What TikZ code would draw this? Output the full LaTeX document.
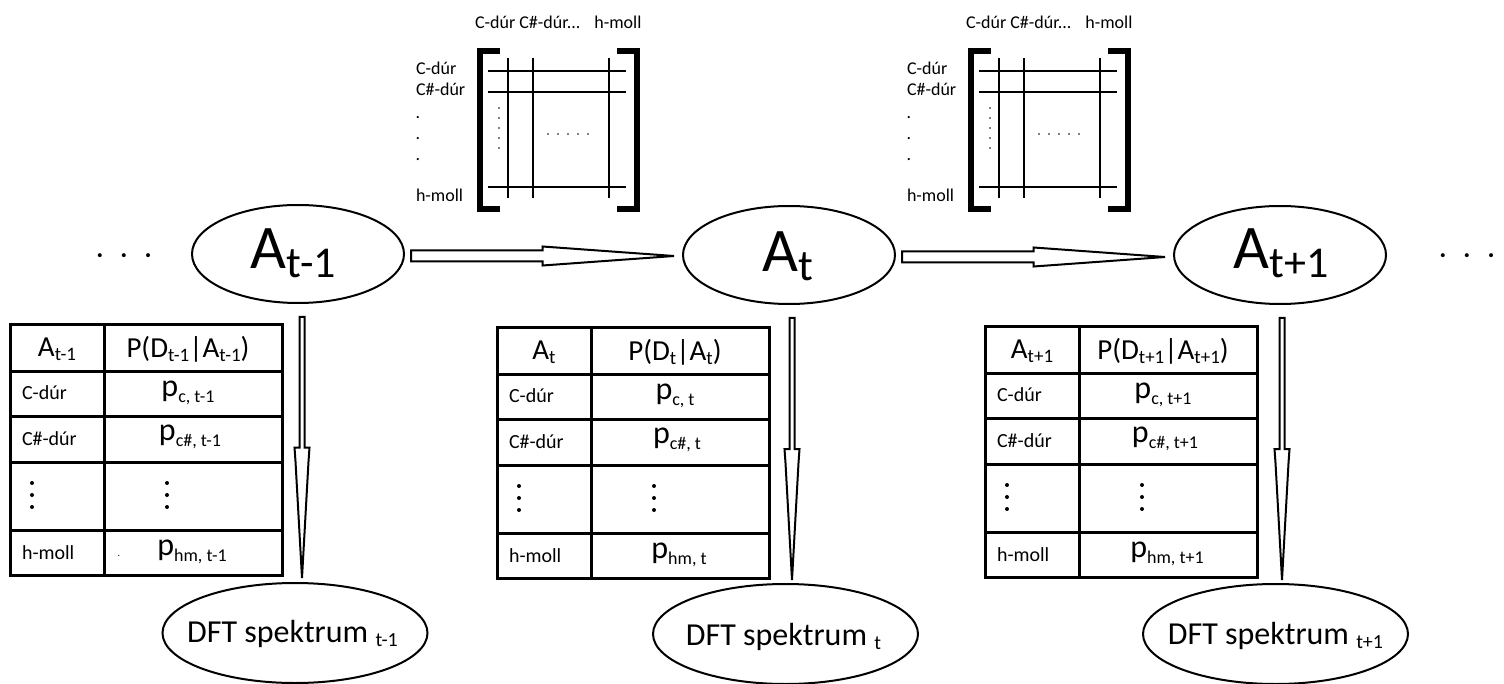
\documentclass[tikz,border=0pt]{standalone}
\usepackage{fontspec}
\setmainfont{Carlito}
\usetikzlibrary{shapes.geometric,calc}
\newcommand\fs[1]{\fontsize{#1}{#1}\selectfont}
\newcommand\lsub[3]{\raisebox{-#3pt}{\fs{#2}#1}}
\tikzset{
  every node/.style={inner sep=0pt, outer sep=0pt},
  ell/.style={draw, ellipse, line width=2pt, minimum width=212pt, minimum height=98pt},
  dftell/.style={draw, ellipse, line width=2pt, minimum width=265pt, minimum height=100pt},
  hol/.style={draw, line width=2pt, line join=miter, fill=white},
  gridline/.style={line width=1.3pt},
  brk/.style={line width=6pt, line join=miter},
  tab/.style={line width=3pt},
  dotrow/.style={line width=1.8pt, line cap=round, dash pattern=on 0pt off 10pt},
  bigdots/.style={line width=4pt, line cap=round, dash pattern=on 0pt off 12pt},
}
% horizontal hollow arrow, tip at x of #2, y of #1
\newcommand\harrow[2]{%
  \path[hol] let \p1=(#1), \p2=(#2), \n1={(\x2-\x1)/2} in
  (\x1,{\y1+5.5pt}) -- ({\x1+\n1},{\y1+5.5pt}) -- ({\x1+\n1},{\y1+9.5pt})
  -- ({\x1+\n1+14pt},{\y1+8.5pt}) -- (\x2,\y1) -- ({\x1+\n1+14pt},{\y1-8.5pt})
  -- ({\x1+\n1},{\y1-9.5pt}) -- ({\x1+\n1},{\y1-5.5pt}) -- (\x1,{\y1-5.5pt}) -- cycle;}
% vertical hollow arrow, x of #1, tip at y of #2
\newcommand\varrow[2]{%
  \path[hol] let \p1=(#1), \p2=(#2), \n1={(\y1-\y2)/2} in
  ({\x1-2.5pt},\y1) -- ({\x1-2.5pt},{\y1-\n1}) -- ({\x1-7.5pt},{\y1-\n1})
  -- ({\x1-6.5pt},{\y1-\n1-14pt}) -- (\x1,\y2) -- ({\x1+6.5pt},{\y1-\n1-14pt})
  -- ({\x1+7.5pt},{\y1-\n1}) -- ({\x1+2.5pt},{\y1-\n1}) -- ({\x1+2.5pt},\y1) -- cycle;}
% transition matrix
\newcommand\transmat[2]{%
  \begin{scope}[shift={(#2,0)}]
    \node[anchor=base west] (#1cols) at (475,29) {\fs{18}C-dúr C\#-dúr...\hspace{14pt}h-moll};
    \node[anchor=base west] (#1r1) at (416,75) {\fs{18}C-dúr};
    \node[anchor=base west] (#1r2) at (416,96) {\fs{18}C\#-dúr};
    \node[align=left, font=\fontsize{18}{21}\selectfont] (#1r3) at (418,139) {.\\.\\.};
    \node[anchor=base west] (#1r4) at (416,202) {\fs{18}h-moll};
    \draw[brk] (500,51) -- (480,51) -- (480,209) -- (500,209);
    \draw[brk] (617,51) -- (637,51) -- (637,209) -- (617,209);
    \draw[gridline] (488,71) -- (626,71) (488,92) -- (626,92) (488,187) -- (626,187);
    \draw[gridline] (508,58) -- (508,198) (533,58) -- (533,198) (609,58) -- (609,198);
    \draw[dotrow] (499,108) -- (499,148.2);
    \draw[dotrow] (548,134) -- (588.2,134);
  \end{scope}}
% probability table
\newcommand\probtable[4]{%
  \begin{scope}[shift={(#2,#3)}]
    \draw[tab] (0,0) rectangle (272,250);
    \draw[tab] (94,0) -- (94,250);
    \foreach \yy in {46,91,137,205} \draw[tab] (0,\yy) -- (272,\yy);
    \node (#1h1) at (47,24) {\fs{29}A\lsub{#4}{19}{4}};
    \node (#1h2) at (178,24) {\fs{29}P(D\lsub{#4}{19}{4}|A\lsub{#4}{19}{4})};
    \node[anchor=west] (#1a1) at (12,68) {\fs{20}C-dúr};
    \node[anchor=west] (#1a2) at (12,114) {\fs{20}C\#-dúr};
    \node[anchor=west] (#1a4) at (12,228) {\fs{20}h-moll};
    \draw[bigdots] (22,158) -- (22,182.2);
    \draw[bigdots] (157,158) -- (157,182.2);
    \node (#1b1) at (178,68) {\fs{32}p\lsub{c, #4}{18}{6}};
    \node (#1b2) at (180,112) {\fs{32}p\lsub{c\#, #4}{18}{6}};
    \node (#1b4) at (182,227) {\fs{32}p\lsub{hm, #4}{18}{6}};
  \end{scope}}
\begin{document}
\begin{tikzpicture}[x=1pt,y=-1pt]
\useasboundingbox (0,0) rectangle (1504,684);
% side dots
\node (ldots) at (124,259) {\fs{28}·\hspace{17pt}·\hspace{17pt}·};
\node (rdots) at (1467,259) {\fs{28}·\hspace{17pt}·\hspace{17pt}·};
% hidden state ellipses
\node[ell] (A1) at (298,254) {};
\node[ell] (A2) at (789,255) {};
\node[ell] (A3) at (1280,255) {};
\node (A1t) at (293.5,253) {\fs{62}A\lsub{t-1}{44}{9}};
\node (A2t) at (788,256) {\fs{62}A\lsub{t}{44}{9}};
\node (A3t) at (1281,253) {\fs{62}A\lsub{t+1}{44}{9}};
% observation ellipses
\node[dftell] (D1) at (295,633) {};
\node[dftell] (D2) at (785.5,634) {};
\node[dftell] (D3) at (1275.5,634) {};
\node (D1t) at (292.5,634) {\fs{32}DFT spektrum \lsub{t-1}{20}{4}};
\node (D2t) at (783.5,637) {\fs{32}DFT spektrum \lsub{t}{20}{4}};
\node (D3t) at (1275.5,636) {\fs{32}DFT spektrum \lsub{t+1}{20}{4}};
% transition arrows
\harrow{$(A1.east)+(7,2)$}{$(A2.west)+(-9,0)$}
\harrow{$(A2.east)+(7,2)$}{$(A3.west)+(-9,0)$}
% emission arrows
\varrow{$(A1.south)+(4,14)$}{$(D1.north)+(0,-5)$}
\varrow{$(A2.south)+(3,14)$}{$(D2.north)+(0,-4)$}
\varrow{$(A3.south)+(2,14)$}{$(D3.north)+(0,-4)$}
% matrices
\transmat{m1}{0}
\transmat{m2}{491}
% tables
\probtable{T1}{10}{325}{t-1}
\probtable{T2}{497}{328}{t}
\probtable{T3}{985}{327}{t+1}
\node (stray) at (119,556) {\fs{10}.};
\end{tikzpicture}
\end{document}
